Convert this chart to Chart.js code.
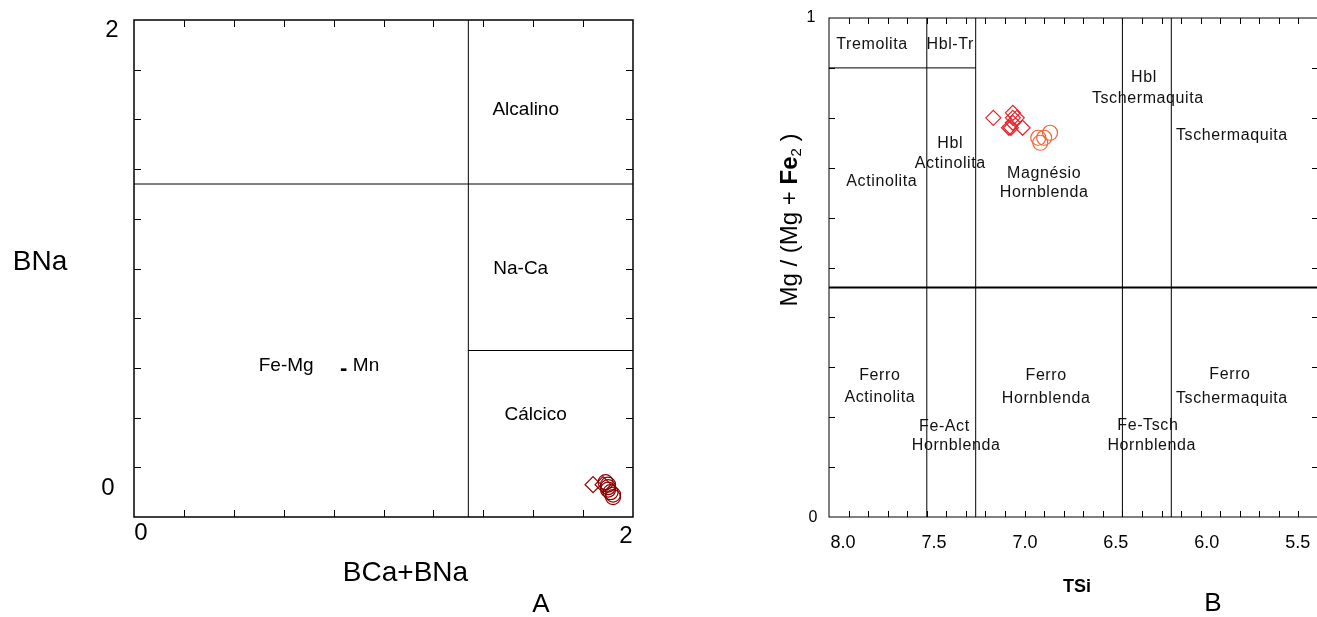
<!DOCTYPE html>
<html>
<head>
<meta charset="utf-8">
<script src="https://cdn.jsdelivr.net/npm/chart.js@4.4.1/dist/chart.umd.min.js"></script>
<style>
html, body { margin: 0; padding: 0; background: #fff; overflow: hidden; width: 1317px; height: 617px; position: relative; }
#chartA { position: absolute; left: 0; top: 0; }
#chartB { position: absolute; left: 700px; top: 0; }
</style>
</head>
<body>
<canvas id="chartA" width="680" height="617"></canvas>
<canvas id="chartB" width="640" height="617"></canvas>
<script>
// --- diagrama A: BCa+BNa x BNa ---
const aDiamondX = [1.84, 1.88];
const aDiamondY = [0.13, 0.13];
const aCircleX = [1.89, 1.90, 1.90, 1.90, 1.91, 1.92, 1.92];
const aCircleY = [0.14, 0.13, 0.12, 0.11, 0.10, 0.09, 0.08];
const aLimitX = [[1.34, 1.34], [0, 2], [1.34, 2]];
const aLimitY = [[0, 2], [1.34, 1.34], [0.67, 0.67]];
const aFieldText = ['Alcalino', 'Na-Ca', 'Cálcico', 'Fe-Mg', 'Mn'];
const aFieldX = [1.57, 1.55, 1.61, 0.61, 0.93];
const aFieldY = [1.64, 1.00, 0.41, 0.61, 0.61];
const aDashX = 0.84;
const aDashY = 0.595;

// --- diagrama B: TSi x Mg/(Mg+Fe2) ---
const bDiamondX = [7.16, 7.06, 7.06, 7.04, 7.07, 7.08, 7.01, 7.06];
const bDiamondY = [0.80, 0.81, 0.80, 0.80, 0.78, 0.78, 0.78, 0.79];
const bCircleX = [6.93, 6.90, 6.87, 6.92];
const bCircleY = [0.76, 0.76, 0.77, 0.75];
const bLimitX = [[7.5, 7.5], [7.25, 7.25], [6.5, 6.5], [6.25, 6.25], [8, 5.5], [8, 7.25]];
const bLimitY = [[0, 1], [0, 1], [0, 1], [0, 1], [0.46, 0.46], [0.9, 0.9]];
const bTickValues = [8.0, 7.5, 7.0, 6.5, 6.0, 5.5];
const bTickLabels = ['8.0', '7.5', '7.0', '6.5', '6.0', '5.5'];
const bFieldText = ['Tremolita', 'Hbl-Tr', 'Hbl', 'Tschermaquita', 'Tschermaquita', 'Hbl', 'Actinolita',
  'Actinolita', 'Magnésio', 'Hornblenda', 'Ferro', 'Actinolita', 'Fe-Act', 'Hornblenda',
  'Ferro', 'Hornblenda', 'Fe-Tsch', 'Hornblenda', 'Ferro', 'Tschermaquita'];
const bFieldX = [7.78, 7.38, 6.39, 6.37, 5.94, 7.38, 7.38, 7.73, 6.90, 6.90, 7.74, 7.74, 7.41, 7.35,
  6.89, 6.89, 6.37, 6.35, 5.95, 5.94];
const bFieldY = [0.946, 0.946, 0.880, 0.838, 0.764, 0.748, 0.709, 0.673, 0.689, 0.651, 0.283, 0.240,
  0.182, 0.144, 0.283, 0.238, 0.184, 0.144, 0.285, 0.238];

const FONT = '"Liberation Sans", Arial, sans-serif';

function pts(xs, ys) { return xs.map((v, i) => ({ x: v, y: ys[i] })); }

function limitSets(xs, ys, w) {
  return xs.map((xx, i) => ({
    data: pts(xx, ys[i]), showLine: true, pointRadius: 0, borderColor: '#000', borderWidth: w[i] || 1
  }));
}

function steps(from, to, step) {
  let out = [];
  for (let v = from; v <= to + 1e-9; v += step) out.push(+v.toFixed(4));
  return out;
}

// moldura e marcas internas
function frame(xTicks, yTicks, len, width) {
  return {
    id: 'frame',
    beforeDatasetsDraw(chart) {
      const { ctx, chartArea: a, scales: { x, y } } = chart;
      ctx.save();
      ctx.strokeStyle = '#000';
      ctx.lineWidth = 1;
      ctx.beginPath();
      xTicks.forEach(v => {
        const p = Math.round(x.getPixelForValue(v)) + 0.5;
        ctx.moveTo(p, a.bottom); ctx.lineTo(p, a.bottom - len);
        ctx.moveTo(p, a.top); ctx.lineTo(p, a.top + len);
      });
      yTicks.forEach(v => {
        const p = Math.round(y.getPixelForValue(v)) + 0.5;
        ctx.moveTo(a.left, p); ctx.lineTo(a.left + len, p);
        ctx.moveTo(a.right, p); ctx.lineTo(a.right - len, p);
      });
      ctx.stroke();
      ctx.lineWidth = width;
      ctx.strokeRect(a.left, a.top, a.right - a.left, a.bottom - a.top);
      ctx.restore();
    }
  };
}

function txt(ctx, s, px, py, font, align) {
  ctx.font = font;
  ctx.textAlign = align || 'center';
  ctx.textBaseline = 'middle';
  ctx.fillText(s, px, py);
}

const textA = {
  id: 'textA',
  afterDatasetsDraw(chart) {
    const { ctx, chartArea: a, scales: { x, y } } = chart;
    ctx.save();
    ctx.fillStyle = '#000';
    aFieldText.forEach((s, i) => txt(ctx, s, x.getPixelForValue(aFieldX[i]), y.getPixelForValue(aFieldY[i]), '19px ' + FONT));
    txt(ctx, '-', x.getPixelForValue(aDashX), y.getPixelForValue(aDashY), 'bold 22px ' + FONT);
    txt(ctx, '2', a.left - 22, y.getPixelForValue(2) + 10, '24px ' + FONT);
    txt(ctx, '0', a.left - 26, y.getPixelForValue(0) - 29, '24px ' + FONT);
    txt(ctx, '0', x.getPixelForValue(0) + 7, a.bottom + 16, '24px ' + FONT);
    txt(ctx, '2', x.getPixelForValue(2) - 7, a.bottom + 19, '24px ' + FONT);
    txt(ctx, 'BNa', 40, 262, '28px ' + FONT);
    txt(ctx, 'BCa+BNa', (a.left + a.right) / 2 + 22, a.bottom + 56, '28px ' + FONT);
    txt(ctx, 'A', 541, 605, '26px ' + FONT);
    ctx.restore();
  }
};

const textB = {
  id: 'textB',
  afterDatasetsDraw(chart) {
    const { ctx, chartArea: a, scales: { x, y } } = chart;
    ctx.save();
    ctx.fillStyle = '#111';
    ctx.letterSpacing = '0.6px';
    bFieldText.forEach((s, i) => txt(ctx, s, x.getPixelForValue(bFieldX[i]), y.getPixelForValue(bFieldY[i]), '16px ' + FONT));
    ctx.letterSpacing = '0px';
    ctx.fillStyle = '#000';
    const x0 = x.getPixelForValue(bTickValues[0]);
    bTickLabels.forEach((s, i) => {
      const p = x0 + 14 + (x.getPixelForValue(bTickValues[i]) - x0) * 0.93;
      txt(ctx, s, p, a.bottom + 26, '18px ' + FONT);
    });
    txt(ctx, '1', a.left - 18, y.getPixelForValue(1), '16px ' + FONT);
    txt(ctx, '0', a.left - 16, y.getPixelForValue(0) + 1, '16px ' + FONT);
    txt(ctx, 'TSi', 377, a.bottom + 70, 'bold 18px ' + FONT);
    txt(ctx, 'B', 513, 604, '26px ' + FONT);
    // titulo do eixo y: Mg / (Mg + Fe2 )
    ctx.translate(90, 220);
    ctx.rotate(-Math.PI / 2);
    ctx.textBaseline = 'middle';
    ctx.textAlign = 'left';
    const parts = [['Mg / (Mg + ', '24px ' + FONT, 0], ['Fe', 'bold 24px ' + FONT, 0], ['2', '15px ' + FONT, 7], [' )', '24px ' + FONT, 0]];
    let w = 0;
    parts.forEach(p => { ctx.font = p[1]; w += ctx.measureText(p[0]).width; });
    let cx = -w / 2;
    parts.forEach(p => { ctx.font = p[1]; ctx.fillText(p[0], cx, p[2]); cx += ctx.measureText(p[0]).width; });
    ctx.restore();
  }
};

new Chart(document.getElementById('chartA'), {
  type: 'scatter',
  data: {
    datasets: [
      ...limitSets(aLimitX, aLimitY, []),
      { data: pts(aDiamondX, aDiamondY), pointStyle: 'rectRot', pointRadius: 8, borderColor: '#8b0000', backgroundColor: 'rgba(0,0,0,0)', borderWidth: 1.2 },
      { data: pts(aCircleX, aCircleY), pointStyle: 'circle', pointRadius: 7.5, borderColor: '#8b0000', backgroundColor: 'rgba(0,0,0,0)', borderWidth: 1.2 }
    ]
  },
  options: {
    responsive: false, animation: false, events: [],
    layout: { padding: { left: 134, top: 20, right: 47, bottom: 100 } },
    plugins: { legend: { display: false }, tooltip: { enabled: false } },
    scales: {
      x: { type: 'linear', min: 0, max: 2, display: false },
      y: { type: 'linear', min: 0, max: 2, display: false }
    }
  },
  plugins: [frame(steps(0.2, 1.8, 0.2), steps(0.2, 1.8, 0.2), 7, 1.5), textA]
});

new Chart(document.getElementById('chartB'), {
  type: 'scatter',
  data: {
    datasets: [
      ...limitSets(bLimitX, bLimitY, [1, 1, 1, 1, 2, 1]),
      { data: pts(bDiamondX, bDiamondY), pointStyle: 'rectRot', pointRadius: 7.5, borderColor: '#e3262b', backgroundColor: 'rgba(0,0,0,0)', borderWidth: 1.2 },
      { data: pts(bCircleX, bCircleY), pointStyle: 'circle', pointRadius: 7.5, borderColor: '#f5673a', backgroundColor: 'rgba(0,0,0,0)', borderWidth: 1.2 }
    ]
  },
  options: {
    responsive: false, animation: false, events: [],
    layout: { padding: { left: 129, top: 18, right: 22, bottom: 100 } },
    plugins: { legend: { display: false }, tooltip: { enabled: false } },
    scales: {
      x: { type: 'linear', min: 5.5, max: 8, reverse: true, display: false },
      y: { type: 'linear', min: 0, max: 1, display: false }
    }
  },
  plugins: [frame(steps(5.6, 7.9, 0.1), steps(0.1, 0.9, 0.1), 6, 1), textB]
});
</script>
</body>
</html>
